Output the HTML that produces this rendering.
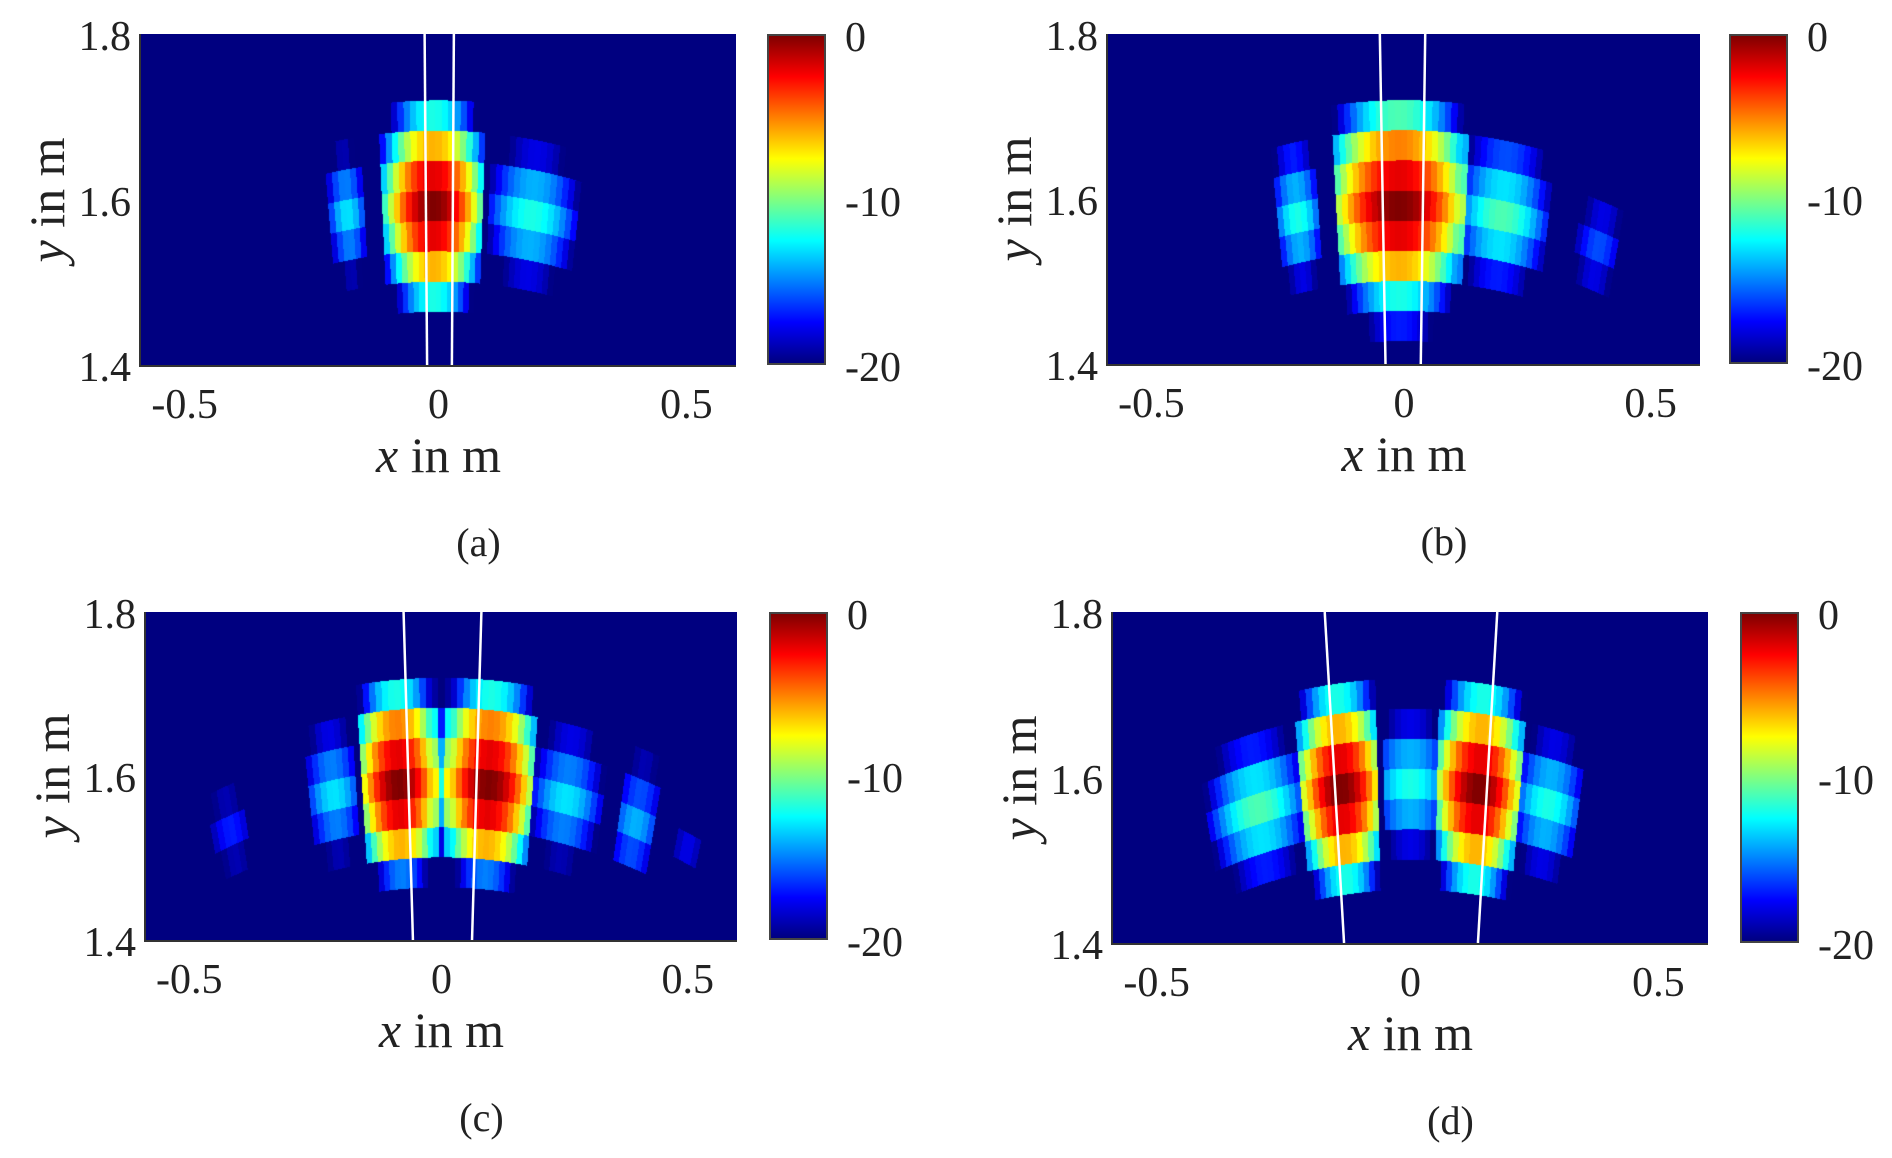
<!DOCTYPE html>
<html><head><meta charset="utf-8"><style>
body{margin:0;background:#fff;width:1892px;height:1158px;position:relative;overflow:hidden;font-family:"Liberation Serif",serif;color:#222}
.t{position:absolute;line-height:1;white-space:nowrap;transform:translate(-50%,-50%)}
.tk{font-size:42px}
.ttl{font-size:50px}
.cap{font-size:40px}
.r{transform:translate(-100%,-50%)}
.l{transform:translate(0,-50%)}
canvas{position:absolute;border-left:2px solid #333;border-bottom:2px solid #333;box-sizing:content-box}
.cb{position:absolute;border:2px solid #444;box-sizing:border-box;background:linear-gradient(to top,#000080 0%,#0000ff 12.5%,#0080ff 25%,#00ffff 37.5%,#80ff80 50%,#ffff00 62.5%,#ff8000 75%,#ff0000 87.5%,#800000 100%)}
svg{position:absolute}
</style></head><body>
<div id="root"></div>
<script>
const panels=[
{L:141,T:34,W:595,H:331,cb:767,cap:"(a)",rows:{0:0,1:-2,"-1":-2,2:-6,"-2":-6,3:-12,"-3":-12},
 lobes:[[-0.01,0.105,0,13],[-0.185,0.035,-13,4],[0.19,0.09,-12,6]],lines:[[-0.028,-0.023],[0.031,0.027]]},
{L:1108,T:34,W:592,H:330,cb:1729,cap:"(b)",rows:{0:0,1:-2,"-1":-2,2:-5,"-2":-6,3:-11,"-3":-12,"-4":-17},
 lobes:[[-0.01,0.13,0,10],[0.2,0.09,-11,6],[-0.217,0.046,-12,5],[0.4,0.042,-16,3]],lines:[[-0.049,-0.0375],[0.043,0.034]]},
{L:146,T:612,W:591,H:328,cb:769,cap:"(c)",rows:{0:0,1:-2,"-1":-2,2:-5,"-2":-6,3:-12,"-3":-15},
 lobes:[[-0.087,0.075,0,9],[0.096,0.085,0,9],[-0.003,0.02,-12,2],[-0.22,0.05,-13,4],[0.255,0.07,-13,5],[-0.435,0.035,-17,2],[0.4,0.04,-14,3],[0.51,0.02,-18,1]],lines:[[-0.077,-0.058],[0.081,0.062]]},
{L:1113,T:612,W:595,H:331,cb:1740,cap:"(d)",rows:{0:0,1:-2,"-1":-2,2:-6,"-2":-6,3:-12,"-3":-12},
 lobes:[[-0.14,0.077,0,9],[0.138,0.08,0,9],[0,0.057,-12,3],[-0.31,0.1,-11,7],[0.28,0.065,-12,5]],lines:[[-0.173,-0.134],[0.175,0.136]]}
];
function cl(v){return Math.max(0,Math.min(1,v));}
function jet(t){return [cl(1.5-Math.abs(4*t-3)),cl(1.5-Math.abs(4*t-2)),cl(1.5-Math.abs(4*t-1))];}
const root=document.getElementById('root');
let html='';
panels.forEach((p,i)=>{
 const L=p.L,T=p.T,W=p.W,H=p.H,B=T+H,cx=v=>L+(v+0.6)/1.2*W;
 html+=`<canvas id="c${i}" width="${W}" height="${H}" style="left:${L-2}px;top:${T}px"></canvas>`;
 html+=`<svg style="left:${L}px;top:${T}px" width="${W}" height="${H}"><line x1="${(p.lines[0][0]+0.6)/1.2*W}" y1="0" x2="${(p.lines[0][1]+0.6)/1.2*W}" y2="${H}" stroke="#fff" stroke-width="2.5"/><line x1="${(p.lines[1][0]+0.6)/1.2*W}" y1="0" x2="${(p.lines[1][1]+0.6)/1.2*W}" y2="${H}" stroke="#fff" stroke-width="2.5"/></svg>`;
 html+=`<div class="cb" style="left:${p.cb}px;top:${T}px;width:59px;height:${H}px"></div>`;
 html+=`<div class="t tk l" style="left:${p.cb+78}px;top:${T+4}px">0</div>`;
 html+=`<div class="t tk l" style="left:${p.cb+78}px;top:${T+H/2+3}px">-10</div>`;
 html+=`<div class="t tk l" style="left:${p.cb+78}px;top:${B+3}px">-20</div>`;
 html+=`<div class="t tk r" style="left:${L-10}px;top:${T+3}px">1.8</div>`;
 html+=`<div class="t tk r" style="left:${L-10}px;top:${T+H/2+3}px">1.6</div>`;
 html+=`<div class="t tk r" style="left:${L-10}px;top:${B+3}px">1.4</div>`;
 html+=`<div class="t tk" style="left:${cx(-0.5)-6}px;top:${B+40}px">-0.5</div>`;
 html+=`<div class="t tk" style="left:${cx(0)}px;top:${B+40}px">0</div>`;
 html+=`<div class="t tk" style="left:${cx(0.5)}px;top:${B+40}px">0.5</div>`;
 html+=`<div class="t ttl" style="left:${L+W/2}px;top:${B+90}px"><i>x</i> in m</div>`;
 html+=`<div class="t ttl" style="left:${L-94}px;top:${T+H/2}px;transform:translate(-50%,-50%) rotate(-90deg)"><i>y</i> in m</div>`;
 html+=`<div class="t cap" style="left:${L+W/2+40}px;top:${B+178}px">${p.cap}</div>`;
});
root.innerHTML=html;
panels.forEach((p,i)=>{
 const c=document.getElementById('c'+i).getContext('2d');
 const img=c.createImageData(p.W,p.H);const d=img.data;
 for(let j=0;j<p.H;j++)for(let q=0;q<p.W;q++){
  const x=-0.6+(q+0.5)/p.W*1.2,y=1.8-(j+0.5)/p.H*0.4;
  const r=Math.hypot(x,y),th=Math.atan2(x,y);
  const xe=Math.round(th/0.0075)*0.0075*1.6;
  const k=Math.round((r-1.592)/0.0365);
  const R=p.rows[k];let v=-99;
  if(R!==undefined){let s=0;
   for(const lb of p.lobes){const dd=(xe-lb[0])/lb[1];if(Math.abs(dd)<=1)s+=Math.pow(10,(lb[2]-lb[3]*dd*dd)/10);}
   if(s>0)v=10*Math.log10(s)+R;}
  const t=cl((v+20)/20);const col=jet(t);const o=(j*p.W+q)*4;
  d[o]=col[0]*255;d[o+1]=col[1]*255;d[o+2]=col[2]*255;d[o+3]=255;}
 c.putImageData(img,0,0);
});
</script>
</body></html>
